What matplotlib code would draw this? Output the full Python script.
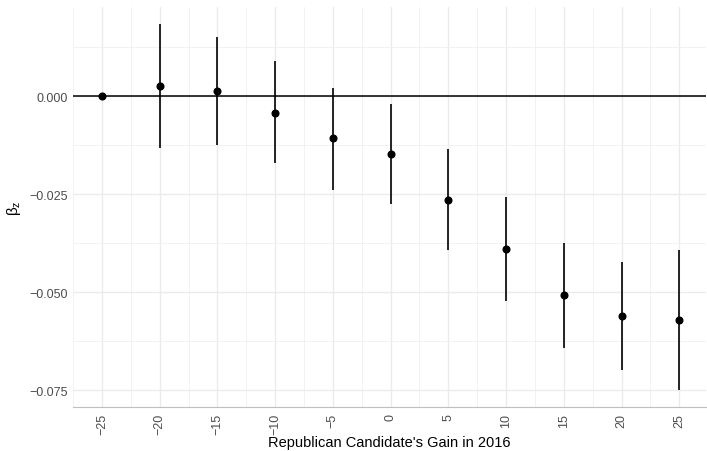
import matplotlib
matplotlib.use('Agg')
import matplotlib.pyplot as plt
from matplotlib.ticker import FixedLocator, FuncFormatter

plt.rcParams['font.family'] = ['Liberation Sans', 'DejaVu Sans']

# Estimated effect by Republican gain in 2016, with interval bounds
gain = [-25, -20, -15, -10, -5, 0, 5, 10, 15, 20, 25]
beta = [0.0, 0.00255, 0.00136, -0.00417, -0.0107, -0.0147, -0.0264, -0.0390, -0.0508, -0.0561, -0.0571]
upper = [0.0, 0.0184, 0.0152, 0.00885, 0.0022, -0.0019, -0.0134, -0.0258, -0.0375, -0.0424, -0.0392]
lower = [0.0, -0.0131, -0.0124, -0.0171, -0.0239, -0.0276, -0.0393, -0.0522, -0.0642, -0.0698, -0.0749]

x_ticks = [-25, -20, -15, -10, -5, 0, 5, 10, 15, 20, 25]
y_ticks = [0.0, -0.025, -0.05, -0.075]

fig = plt.figure(figsize=(7.07, 4.52), dpi=100)
ax = fig.add_axes([0.1033, 0.097, 0.895, 0.885])

# grid, ggplot minimal style
ax.set_axisbelow(True)
ax.xaxis.set_major_locator(FixedLocator(x_ticks))
ax.xaxis.set_minor_locator(FixedLocator([-27.5, -22.5, -17.5, -12.5, -7.5, -2.5, 2.5, 7.5, 12.5, 17.5, 22.5]))
ax.yaxis.set_major_locator(FixedLocator(y_ticks))
ax.yaxis.set_minor_locator(FixedLocator([0.0125, -0.0125, -0.0375, -0.0625]))
ax.grid(which='major', color='#EBEBEB', lw=1.0)
ax.grid(which='minor', color='#F0F0F0', lw=0.6)

ax.axhline(0, color='black', lw=1.1, zorder=2)
ax.vlines(gain, lower, upper, color='black', lw=1.2, zorder=3)
ax.plot(gain, beta, 'o', color='black', ms=4.8, zorder=4)

ax.set_xlim(-27.5, 27.3)
ax.set_ylim(-0.0793, 0.0227)

for s in ['top', 'right', 'left']:
    ax.spines[s].set_visible(False)
ax.spines['bottom'].set_color('#BFBFBF')
ax.spines['bottom'].set_linewidth(0.8)

ax.yaxis.set_major_formatter(FuncFormatter(lambda v, p: ('%.3f' % v).replace('-', '\u2212')))
ax.tick_params(which='both', length=0)
ax.tick_params(axis='y', labelsize=9, labelcolor='#4D4D4D', pad=4)
ax.tick_params(axis='x', labelsize=9, labelcolor='#4D4D4D', pad=4, labelrotation=90)

ax.set_xlabel("Republican Candidate's Gain in 2016", fontsize=10.5, labelpad=1)
ax.set_ylabel(r'$\mathregular{\beta_z}$', fontsize=11, labelpad=4)

fig.savefig('out.png', dpi=100)
